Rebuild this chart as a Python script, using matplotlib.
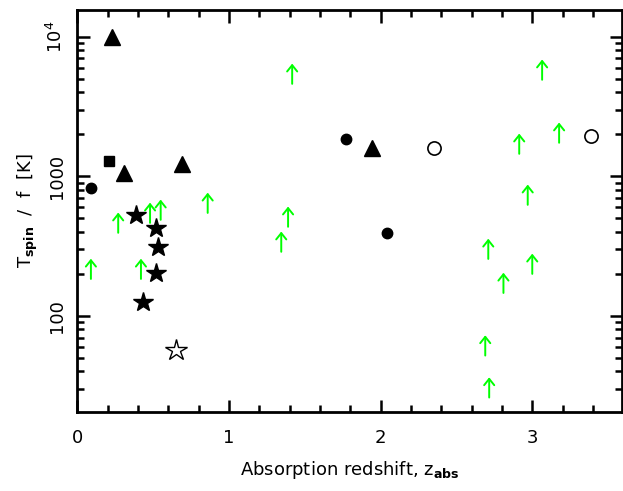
import numpy as np
import matplotlib
matplotlib.use('Agg')
import matplotlib.pyplot as plt
from matplotlib.ticker import LogLocator, MultipleLocator, FixedLocator, NullFormatter

# --- dados ---
# detecções (símbolos cheios / vazios)
circ_z = [0.09, 1.77, 2.04]
circ_t = [830, 1860, 390]
quad_z = [0.21]
quad_t = [1290]
tri_z = [0.23, 0.31, 0.69, 1.945]
tri_t = [10000, 1060, 1230, 1600]
circ_open_z = [2.35, 3.39]
circ_open_t = [1600, 1950]
estrela_z = [0.39, 0.52, 0.53, 0.52, 0.435]
estrela_t = [530, 427, 312, 203, 126]
estrela_open_z = [0.65]
estrela_open_t = [57]

# limites inferiores (setas verdes)
lim_z = [0.09, 0.27, 0.42, 0.48, 0.55, 0.86, 1.345, 1.39, 1.417,
         2.69, 2.71, 2.716, 2.81, 2.914, 2.97, 3.0, 3.065, 3.177]
lim_t = [184, 394, 184, 464, 488, 547, 288, 435, 4600,
         52, 256, 26, 146, 1450, 625, 200, 4920, 1740]

VERDE = '#00ff00'

plt.rcParams['font.family'] = ['DejaVu Sans']
plt.rcParams['font.size'] = 13

fig = plt.figure(figsize=(6.23, 4.91), dpi=100)
ax = fig.add_axes([0.124, 0.161, 0.874, 0.819])
ax.set_yscale('log')
ax.set_xlim(0, 3.59)
ax.set_ylim(20.5, 15600)

ax.plot(circ_z, circ_t, 'o', color='k', ms=7.5, zorder=3)
ax.plot(quad_z, quad_t, 's', color='k', ms=6.5, zorder=3)
ax.plot(tri_z, tri_t, '^', color='k', ms=11, zorder=3)
ax.plot(circ_open_z, circ_open_t, 'o', mfc='white', mec='k', mew=1.2, ms=9.5, zorder=3)
ax.plot(estrela_z, estrela_t, '*', color='k', ms=15, zorder=3)
ax.plot(estrela_open_z, estrela_open_t, '*', mfc='white', mec='k', mew=1.0, ms=16, zorder=3)

# setas: base no valor, ponta ~0.145 dex acima
for z, t in zip(lim_z, lim_t):
    ax.annotate('', xy=(z, t * 10**0.145), xytext=(z, t),
                arrowprops=dict(arrowstyle='->,head_length=0.35,head_width=0.28',
                                color=VERDE, lw=1.4, shrinkA=0, shrinkB=0))

for s in ax.spines.values():
    s.set_linewidth(2)

ax.xaxis.set_major_locator(MultipleLocator(1))
ax.xaxis.set_minor_locator(MultipleLocator(0.2))
ax.yaxis.set_major_locator(FixedLocator([100, 1000, 10000]))
ax.yaxis.set_minor_locator(LogLocator(base=10, subs=np.arange(2, 10)))
ax.yaxis.set_minor_formatter(NullFormatter())
ax.set_yticklabels(['100', '1000', r'10$^4$'], rotation=90, va='center')

ax.tick_params(which='both', direction='in', top=True, right=True, width=1.8)
ax.tick_params(which='major', length=9)
ax.tick_params(axis='x', which='major', pad=12)
ax.tick_params(axis='y', which='major', pad=8)
ax.tick_params(which='minor', length=5)

ax.set_xlabel(r'Absorption redshift, z$_{\bf abs}$', labelpad=9)
ax.set_ylabel(r'T$_{\bf spin}$  /  f  [K]', labelpad=4)

fig.savefig('out.png', dpi=100)
